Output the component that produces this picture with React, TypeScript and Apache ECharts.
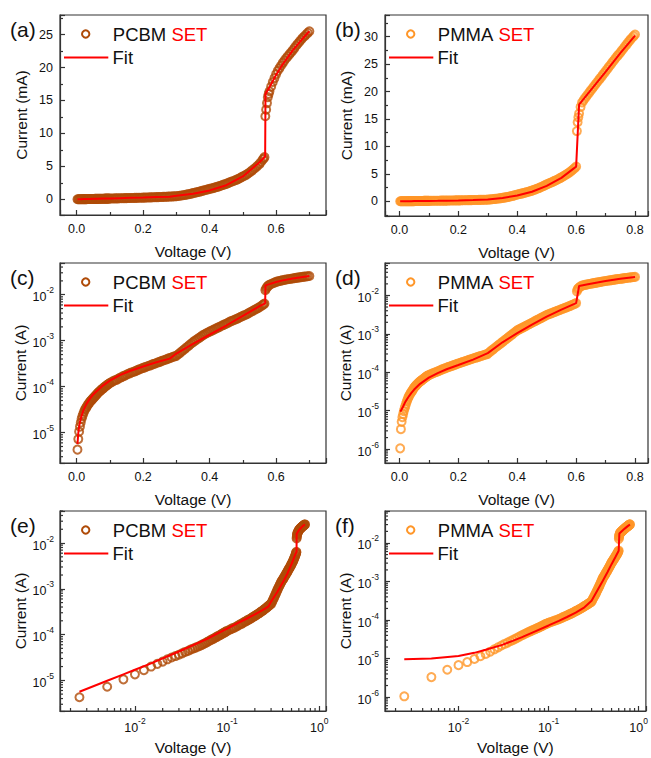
import React, { useEffect, useRef } from 'react';
import * as echarts from 'echarts';

const FONT = '"Liberation Sans", Arial, Helvetica, sans-serif';
const PCBM_COLOR = '#AF4B08';
const PMMA_COLOR = '#FF9628';
const FIT_COLOR = '#FF0000';
const AXIS_COLOR = '#333333';
const TEXT_COLOR = '#111111';

// ---------- PCBM SET data (voltage in V, current in A) ----------
const pcbmV = [
  0.0025, 0.005, 0.0075, 0.01, 0.0125, 0.015, 0.0175, 0.02, 0.0225, 0.025,
  0.0275, 0.03, 0.0325, 0.035, 0.0375, 0.04, 0.0425, 0.045, 0.0475, 0.05,
  0.0525, 0.055, 0.0575, 0.06, 0.0625, 0.065, 0.0675, 0.07, 0.0725, 0.075,
  0.0775, 0.08, 0.0825, 0.085, 0.0875, 0.09, 0.0925, 0.095, 0.0975, 0.1,
  0.105, 0.11, 0.115, 0.12, 0.125, 0.13, 0.135, 0.14, 0.145, 0.15,
  0.155, 0.16, 0.165, 0.17, 0.175, 0.18, 0.185, 0.19, 0.195, 0.2,
  0.205, 0.21, 0.215, 0.22, 0.225, 0.23, 0.235, 0.24, 0.245, 0.25,
  0.255, 0.26, 0.265, 0.27, 0.275, 0.28, 0.285, 0.29, 0.295, 0.3,
  0.305, 0.31, 0.315, 0.32, 0.325, 0.33, 0.335, 0.34, 0.345, 0.35,
  0.355, 0.36, 0.365, 0.37, 0.375, 0.38, 0.385, 0.39, 0.395, 0.4,
  0.405, 0.41, 0.415, 0.42, 0.425, 0.43, 0.435, 0.44, 0.445, 0.45,
  0.455, 0.46, 0.465, 0.47, 0.475, 0.48, 0.485, 0.49, 0.495, 0.5,
  0.505, 0.51, 0.515, 0.52, 0.525, 0.53, 0.535, 0.54, 0.545, 0.55,
  0.555, 0.56, 0.5625, 0.565, 0.5675, 0.57, 0.5725, 0.575, 0.5775, 0.58,
  0.585, 0.59, 0.595, 0.6, 0.605, 0.61, 0.615, 0.62, 0.625, 0.63,
  0.635, 0.64, 0.645, 0.65, 0.655, 0.66, 0.665, 0.67, 0.675, 0.68,
  0.685, 0.69, 0.695, 0.7,
];
const pcbmI = [
  4.27e-6, 7.24e-6, 1.05e-5, 1.35e-5, 1.66e-5, 2.0e-5, 2.29e-5, 2.57e-5, 2.88e-5, 3.16e-5,
  3.39e-5, 3.63e-5, 3.89e-5, 4.17e-5, 4.37e-5, 4.68e-5, 4.9e-5, 5.13e-5, 5.37e-5, 5.62e-5,
  5.89e-5, 6.17e-5, 6.46e-5, 6.76e-5, 7.08e-5, 7.41e-5, 7.76e-5, 7.94e-5, 8.32e-5, 8.71e-5,
  8.91e-5, 9.33e-5, 9.55e-5, 1.0e-4, 1.02e-4, 1.07e-4, 1.1e-4, 1.12e-4, 1.17e-4, 1.2e-4,
  1.26e-4, 1.32e-4, 1.38e-4, 1.41e-4, 1.48e-4, 1.55e-4, 1.62e-4, 1.7e-4, 1.74e-4, 1.82e-4,
  1.91e-4, 1.95e-4, 2.04e-4, 2.09e-4, 2.16e-4, 2.24e-4, 2.32e-4, 2.4e-4, 2.48e-4, 2.57e-4,
  2.63e-4, 2.72e-4, 2.82e-4, 2.88e-4, 2.99e-4, 3.09e-4, 3.16e-4, 3.27e-4, 3.39e-4, 3.47e-4,
  3.59e-4, 3.72e-4, 3.8e-4, 3.94e-4, 4.07e-4, 4.17e-4, 4.32e-4, 4.47e-4, 4.57e-4, 4.68e-4,
  5.01e-4, 5.37e-4, 5.76e-4, 6.17e-4, 6.61e-4, 7.08e-4, 7.59e-4, 8.13e-4, 8.71e-4, 9.33e-4,
  9.9e-4, 1.05e-3, 1.11e-3, 1.17e-3, 1.24e-3, 1.32e-3, 1.38e-3, 1.45e-3, 1.51e-3, 1.58e-3,
  1.64e-3, 1.7e-3, 1.78e-3, 1.86e-3, 1.93e-3, 2.0e-3, 2.09e-3, 2.19e-3, 2.26e-3, 2.34e-3,
  2.45e-3, 2.57e-3, 2.66e-3, 2.75e-3, 2.85e-3, 2.95e-3, 3.07e-3, 3.2e-3, 3.33e-3, 3.47e-3,
  3.59e-3, 3.72e-3, 3.89e-3, 4.07e-3, 4.27e-3, 4.47e-3, 4.68e-3, 4.9e-3, 5.13e-3, 5.37e-3,
  5.69e-3, 6.03e-3, 6.2e-3, 6.4e-3, 12.6e-3, 13.6e-3, 14.6e-3, 15.5e-3, 16.0e-3, 16.4e-3,
  17.1e-3, 17.8e-3, 18.4e-3, 19.0e-3, 19.5e-3, 19.9e-3, 20.3e-3, 20.7e-3, 21.05e-3, 21.4e-3,
  21.7e-3, 22.0e-3, 22.3e-3, 22.6e-3, 22.95e-3, 23.3e-3, 23.6e-3, 23.9e-3, 24.2e-3, 24.5e-3,
  24.75e-3, 25.0e-3, 25.25e-3, 25.5e-3,
];
const pcbmFitV = [
  0.0025, 0.005, 0.0075, 0.01, 0.015, 0.02, 0.03, 0.04, 0.05, 0.06, 0.08, 0.1, 0.13, 0.16,
  0.2, 0.24, 0.28, 0.3, 0.35, 0.4, 0.45, 0.5, 0.55, 0.567, 0.568, 0.58, 0.6, 0.62, 0.65, 0.68, 0.7,
];
const pcbmFitI = [
  5.62e-6, 9.77e-6, 1.35e-5, 1.7e-5, 2.34e-5, 3.02e-5, 4.27e-5, 5.5e-5, 6.76e-5, 7.94e-5, 1.07e-4, 1.35e-4, 1.78e-4, 2.19e-4,
  2.75e-4, 3.39e-4, 4.07e-4, 5.25e-4, 8.51e-4, 1.35e-3, 2.14e-3, 3.47e-3, 5.62e-3, 6.5e-3, 16.0e-3, 17.0e-3, 18.9e-3, 20.5e-3, 22.6e-3, 24.4e-3, 25.5e-3,
];

// ---------- PMMA SET data (voltage in V, current in A) ----------
const pmmaV = [
  0.0025, 0.005, 0.0075, 0.01, 0.0125, 0.015, 0.0175, 0.02, 0.0225, 0.025,
  0.0275, 0.03, 0.0325, 0.035, 0.0375, 0.04, 0.0425, 0.045, 0.0475, 0.05,
  0.0525, 0.055, 0.0575, 0.06, 0.0625, 0.065, 0.0675, 0.07, 0.0725, 0.075,
  0.0775, 0.08, 0.0825, 0.085, 0.0875, 0.09, 0.0925, 0.095, 0.0975, 0.1,
  0.105, 0.11, 0.115, 0.12, 0.125, 0.13, 0.135, 0.14, 0.145, 0.15,
  0.155, 0.16, 0.165, 0.17, 0.175, 0.18, 0.185, 0.19, 0.195, 0.2,
  0.205, 0.21, 0.215, 0.22, 0.225, 0.23, 0.235, 0.24, 0.245, 0.25,
  0.255, 0.26, 0.265, 0.27, 0.275, 0.28, 0.285, 0.29, 0.295, 0.3,
  0.305, 0.31, 0.315, 0.32, 0.325, 0.33, 0.335, 0.34, 0.345, 0.35,
  0.355, 0.36, 0.365, 0.37, 0.375, 0.38, 0.385, 0.39, 0.395, 0.4,
  0.405, 0.41, 0.415, 0.42, 0.425, 0.43, 0.435, 0.44, 0.445, 0.45,
  0.455, 0.46, 0.465, 0.47, 0.475, 0.48, 0.485, 0.49, 0.495, 0.5,
  0.505, 0.51, 0.515, 0.52, 0.525, 0.53, 0.535, 0.54, 0.545, 0.55,
  0.555, 0.56, 0.565, 0.57, 0.575, 0.58, 0.585, 0.59, 0.595, 0.6,
  0.6025, 0.605, 0.6075, 0.61, 0.615, 0.62, 0.625, 0.63, 0.635, 0.64,
  0.645, 0.65, 0.655, 0.66, 0.665, 0.67, 0.675, 0.68, 0.685, 0.69,
  0.695, 0.7, 0.705, 0.71, 0.715, 0.72, 0.725, 0.73, 0.735, 0.74,
  0.745, 0.75, 0.755, 0.76, 0.765, 0.77, 0.775, 0.78, 0.785, 0.79,
  0.795, 0.8,
];
const pmmaI = [
  1.05e-6, 3.31e-6, 5.13e-6, 6.76e-6, 8.13e-6, 9.77e-6, 1.15e-5, 1.32e-5, 1.51e-5, 1.74e-5,
  1.95e-5, 2.19e-5, 2.4e-5, 2.6e-5, 2.82e-5, 3.02e-5, 3.24e-5, 3.47e-5, 3.72e-5, 3.98e-5,
  4.2e-5, 4.42e-5, 4.66e-5, 4.9e-5, 5.1e-5, 5.31e-5, 5.53e-5, 5.75e-5, 5.96e-5, 6.17e-5,
  6.38e-5, 6.61e-5, 6.84e-5, 7.08e-5, 7.33e-5, 7.59e-5, 7.82e-5, 8.04e-5, 8.28e-5, 8.51e-5,
  8.83e-5, 9.16e-5, 9.51e-5, 9.86e-5, 1.02e-4, 1.06e-4, 1.1e-4, 1.14e-4, 1.19e-4, 1.23e-4,
  1.27e-4, 1.31e-4, 1.36e-4, 1.4e-4, 1.45e-4, 1.49e-4, 1.54e-4, 1.59e-4, 1.64e-4, 1.7e-4,
  1.75e-4, 1.8e-4, 1.86e-4, 1.91e-4, 1.97e-4, 2.03e-4, 2.09e-4, 2.16e-4, 2.22e-4, 2.29e-4,
  2.36e-4, 2.42e-4, 2.49e-4, 2.56e-4, 2.63e-4, 2.7e-4, 2.78e-4, 2.86e-4, 2.94e-4, 3.02e-4,
  3.27e-4, 3.55e-4, 3.8e-4, 4.07e-4, 4.36e-4, 4.68e-4, 5.01e-4, 5.37e-4, 5.76e-4, 6.17e-4,
  6.61e-4, 7.08e-4, 7.59e-4, 8.13e-4, 8.71e-4, 9.33e-4, 1.0e-3, 1.07e-3, 1.15e-3, 1.23e-3,
  1.29e-3, 1.35e-3, 1.41e-3, 1.48e-3, 1.55e-3, 1.62e-3, 1.7e-3, 1.78e-3, 1.86e-3, 1.95e-3,
  2.04e-3, 2.14e-3, 2.24e-3, 2.34e-3, 2.45e-3, 2.57e-3, 2.69e-3, 2.82e-3, 2.95e-3, 3.09e-3,
  3.2e-3, 3.31e-3, 3.43e-3, 3.55e-3, 3.67e-3, 3.8e-3, 3.93e-3, 4.07e-3, 4.22e-3, 4.37e-3,
  4.52e-3, 4.68e-3, 4.84e-3, 5.01e-3, 5.19e-3, 5.37e-3, 5.59e-3, 5.82e-3, 6.06e-3, 6.31e-3,
  12.8e-3, 14.4e-3, 15.3e-3, 16.0e-3, 17.2e-3, 18.0e-3, 18.4e-3, 18.8e-3, 19.15e-3, 19.5e-3,
  19.85e-3, 20.2e-3, 20.55e-3, 20.9e-3, 21.25e-3, 21.6e-3, 21.95e-3, 22.3e-3, 22.65e-3, 23.0e-3,
  23.35e-3, 23.7e-3, 24.05e-3, 24.4e-3, 24.75e-3, 25.1e-3, 25.45e-3, 25.8e-3, 26.15e-3, 26.5e-3,
  26.8e-3, 27.1e-3, 27.45e-3, 27.8e-3, 28.15e-3, 28.5e-3, 28.85e-3, 29.2e-3, 29.5e-3, 29.8e-3,
  30.1e-3, 30.4e-3,
];
const pmmaFitV = [
  0.0025, 0.005, 0.01, 0.015, 0.02, 0.03, 0.04, 0.05, 0.07, 0.1, 0.13, 0.16, 0.2,
  0.25, 0.3, 0.35, 0.4, 0.45, 0.5, 0.55, 0.6, 0.61, 0.64, 0.7, 0.75, 0.8,
];
const pmmaFitI = [
  9.55e-6, 1.0e-5, 1.17e-5, 1.41e-5, 1.7e-5, 2.24e-5, 2.88e-5, 3.55e-5, 5.01e-5, 7.24e-5, 9.55e-5, 1.2e-4, 1.55e-4,
  2.14e-4, 3.16e-4, 6.03e-4, 1.05e-3, 1.74e-3, 2.82e-3, 4.27e-3, 6.31e-3, 17.6e-3, 19.6e-3, 23.6e-3, 27.0e-3, 30.2e-3,
];

// ---------- panel labels / texts ----------
const panelLabels = ['(a)', '(b)', '(c)', '(d)', '(e)', '(f)'];
const materials = ['PCBM', 'PMMA', 'PCBM', 'PMMA', 'PCBM', 'PMMA'];
const yNames = ['Current (mA)', 'Current (mA)', 'Current (A)', 'Current (A)', 'Current (A)', 'Current (A)'];
const xName = 'Voltage (V)';

type Panel = {
  grid: { left: number; top: number; width: number; height: number };
  xLog: boolean;
  yLog: boolean;
  xMin: number;
  xMax: number;
  yMin: number;
  yMax: number;
  ySplit: number;
  yScale: number;
  color: string;
  v: number[];
  i: number[];
  fv: number[];
  fi: number[];
};

const p10 = (e: number) => Math.pow(10, e);

const panels: Panel[] = [
  { grid: { left: 60, top: 15, width: 266, height: 200 }, xLog: false, yLog: false, xMin: -0.05, xMax: 0.75, yMin: -2.38, yMax: 27.97, ySplit: 6, yScale: 1000, color: PCBM_COLOR, v: pcbmV, i: pcbmI, fv: pcbmFitV, fi: pcbmFitI },
  { grid: { left: 385, top: 15, width: 264, height: 201 }, xLog: false, yLog: false, xMin: -0.049, xMax: 0.844, yMin: -2.68, yMax: 33.95, ySplit: 7, yScale: 1000, color: PMMA_COLOR, v: pmmaV, i: pmmaI, fv: pmmaFitV, fi: pmmaFitI },
  { grid: { left: 60, top: 263, width: 266, height: 200 }, xLog: false, yLog: true, xMin: -0.05, xMax: 0.75, yMin: p10(-5.66), yMax: p10(-1.31), ySplit: 5, yScale: 1, color: PCBM_COLOR, v: pcbmV, i: pcbmI, fv: pcbmFitV, fi: pcbmFitI },
  { grid: { left: 385, top: 263, width: 264, height: 200 }, xLog: false, yLog: true, xMin: -0.049, xMax: 0.844, yMin: p10(-6.36), yMax: p10(-1.156), ySplit: 5, yScale: 1, color: PMMA_COLOR, v: pmmaV, i: pmmaI, fv: pmmaFitV, fi: pmmaFitI },
  { grid: { left: 60, top: 511, width: 266, height: 200 }, xLog: true, yLog: true, xMin: p10(-2.813), xMax: p10(0.073), yMin: p10(-5.67), yMax: p10(-1.3), ySplit: 5, yScale: 1, color: PCBM_COLOR, v: pcbmV, i: pcbmI, fv: pcbmFitV, fi: pcbmFitI },
  { grid: { left: 385, top: 511, width: 264, height: 200 }, xLog: true, yLog: true, xMin: p10(-2.816), xMax: p10(0.08), yMin: p10(-6.36), yMax: p10(-1.17), ySplit: 5, yScale: 1, color: PMMA_COLOR, v: pmmaV, i: pmmaI, fv: pmmaFitV, fi: pmmaFitI },
];

const logMinorTicks = (min: number, max: number): number[] => {
  const out: number[] = [];
  for (let e = Math.floor(Math.log10(min)); e <= Math.ceil(Math.log10(max)); e++) {
    for (let k = 2; k <= 9; k++) {
      const val = k * Math.pow(10, e);
      if (val > min && val < max) out.push(val);
    }
  }
  return out;
};

const logFormatter = (val: number) => {
  const e = Math.log10(val);
  const r = Math.round(e);
  if (Math.abs(e - r) < 1e-6) return `{b|10}{s|${r}}`;
  return '';
};

const logRich = {
  b: { fontSize: 12.5, fontFamily: FONT, color: TEXT_COLOR, lineHeight: 18, verticalAlign: 'bottom' },
  s: { fontSize: 8.5, fontFamily: FONT, color: TEXT_COLOR, lineHeight: 8, verticalAlign: 'top' },
};

const lineStyleAxis = { color: AXIS_COLOR, width: 1.2 };

function buildOption() {
  const grids: any[] = [];
  const xAxes: any[] = [];
  const yAxes: any[] = [];
  const series: any[] = [];
  const graphics: any[] = [];

  panels.forEach((p, k) => {
    grids.push({ ...p.grid, show: true, borderColor: AXIS_COLOR, borderWidth: 1.2, backgroundColor: 'transparent' });

    const common = {
      gridIndex: k,
      nameLocation: 'middle',
      nameTextStyle: { fontFamily: FONT, fontSize: 15.5, color: TEXT_COLOR },
      axisLine: { show: true, onZero: false, lineStyle: lineStyleAxis },
      axisTick: { show: true, inside: true, length: 5, lineStyle: lineStyleAxis },
      splitLine: { show: false },
      minorSplitLine: { show: false },
    };

    xAxes.push({
      ...common,
      type: p.xLog ? 'log' : 'value',
      logBase: 10,
      min: p.xMin,
      max: p.xMax,
      splitNumber: 5,
      name: xName,
      nameGap: 28,
      minorTick: { show: !p.xLog, splitNumber: 2, length: 3, lineStyle: lineStyleAxis },
      axisLabel: p.xLog
        ? { margin: 5, formatter: logFormatter, rich: logRich, fontFamily: FONT, fontSize: 12.5, color: TEXT_COLOR }
        : {
            margin: 7,
            fontFamily: FONT,
            fontSize: 12.5,
            color: TEXT_COLOR,
            formatter: (v: number) => (Math.abs(v / 0.2 - Math.round(v / 0.2)) < 1e-6 ? v.toFixed(1) : ''),
          },
    });

    yAxes.push({
      ...common,
      type: p.yLog ? 'log' : 'value',
      logBase: 10,
      min: p.yMin,
      max: p.yMax,
      splitNumber: p.ySplit,
      name: yNames[k],
      nameGap: 31,
      minorTick: { show: !p.yLog, splitNumber: 2, length: 3, lineStyle: lineStyleAxis },
      axisLabel: p.yLog
        ? { margin: 6, formatter: logFormatter, rich: logRich, fontFamily: FONT, fontSize: 12.5, color: TEXT_COLOR }
        : {
            margin: 7,
            fontFamily: FONT,
            fontSize: 12.5,
            color: TEXT_COLOR,
            formatter: (v: number) => (Math.abs(v / 5 - Math.round(v / 5)) < 1e-6 ? String(Math.round(v)) : ''),
          },
    });

    // measured data (hollow circles)
    series.push({
      type: 'scatter',
      xAxisIndex: k,
      yAxisIndex: k,
      silent: true,
      symbol: 'circle',
      symbolSize: 8,
      itemStyle: { color: 'rgba(0,0,0,0)', borderColor: p.color, borderWidth: 2 },
      data: p.v.map((x, j) => [x, p.i[j] * p.yScale]),
      z: 2,
    });
    // fit line
    series.push({
      type: 'line',
      xAxisIndex: k,
      yAxisIndex: k,
      silent: true,
      showSymbol: false,
      symbol: 'none',
      lineStyle: { color: FIT_COLOR, width: 2 },
      data: p.fv.map((x, j) => [x, p.fi[j] * p.yScale]),
      z: 3,
    });

    // log-style minor ticks
    if (p.xLog) {
      const yMinVal = p.yMin;
      series.push({
        type: 'custom',
        xAxisIndex: k,
        yAxisIndex: k,
        silent: true,
        clip: false,
        z: 4,
        data: logMinorTicks(p.xMin, p.xMax).map((v) => [v, yMinVal]),
        renderItem: (_params: any, api: any) => {
          const pt = api.coord([api.value(0), yMinVal]);
          return {
            type: 'line',
            shape: { x1: pt[0], y1: pt[1], x2: pt[0], y2: pt[1] - 3 },
            style: { stroke: AXIS_COLOR, lineWidth: 1.2 },
          };
        },
      });
    }
    if (p.yLog) {
      const xMinVal = p.xMin;
      series.push({
        type: 'custom',
        xAxisIndex: k,
        yAxisIndex: k,
        silent: true,
        clip: false,
        z: 4,
        data: logMinorTicks(p.yMin, p.yMax).map((v) => [xMinVal, v]),
        renderItem: (_params: any, api: any) => {
          const pt = api.coord([xMinVal, api.value(1)]);
          return {
            type: 'line',
            shape: { x1: pt[0], y1: pt[1], x2: pt[0] + 3, y2: pt[1] },
            style: { stroke: AXIS_COLOR, lineWidth: 1.2 },
          };
        },
      });
    }

    // panel label and legend
    const gl = p.grid.left;
    const gt = p.grid.top;
    graphics.push(
      {
        type: 'text',
        x: gl - 50,
        y: gt + 14.5,
        style: { text: panelLabels[k], fontSize: 21, fontFamily: FONT, fill: TEXT_COLOR, verticalAlign: 'middle' },
      },
      {
        type: 'circle',
        shape: { cx: gl + 25.7, cy: gt + 19, r: 3.7 },
        style: { fill: 'none', stroke: p.color, lineWidth: 2 },
      },
      {
        type: 'text',
        x: gl + 52.8,
        y: gt + 19.5,
        style: {
          text: `{a|${materials[k]}} {b|SET}`,
          fontSize: 18.5,
          fontFamily: FONT,
          fill: TEXT_COLOR,
          verticalAlign: 'middle',
          rich: {
            a: { fill: TEXT_COLOR, fontSize: 18.5, fontFamily: FONT },
            b: { fill: FIT_COLOR, fontSize: 18.5, fontFamily: FONT },
          },
        },
      },
      {
        type: 'line',
        shape: { x1: gl + 4, y1: gt + 42.5, x2: gl + 48.3, y2: gt + 42.5 },
        style: { stroke: FIT_COLOR, lineWidth: 2 },
      },
      {
        type: 'text',
        x: gl + 52.5,
        y: gt + 42.5,
        style: { text: 'Fit', fontSize: 18.5, fontFamily: FONT, fill: TEXT_COLOR, verticalAlign: 'middle' },
      },
    );
  });

  return {
    animation: false,
    backgroundColor: '#ffffff',
    textStyle: { fontFamily: FONT },
    grid: grids,
    xAxis: xAxes,
    yAxis: yAxes,
    series,
    graphic: { elements: graphics },
  };
}

export default function App() {
  const ref = useRef<HTMLDivElement>(null);
  useEffect(() => {
    if (!ref.current) return;
    const chart = echarts.init(ref.current, null, { renderer: 'svg' });
    chart.setOption(buildOption() as any);
    return () => chart.dispose();
  }, []);
  return (
    <div
      ref={ref}
      style={{ position: 'absolute', left: 0, top: 0, width: 651, height: 758, background: '#fff' }}
    />
  );
}
